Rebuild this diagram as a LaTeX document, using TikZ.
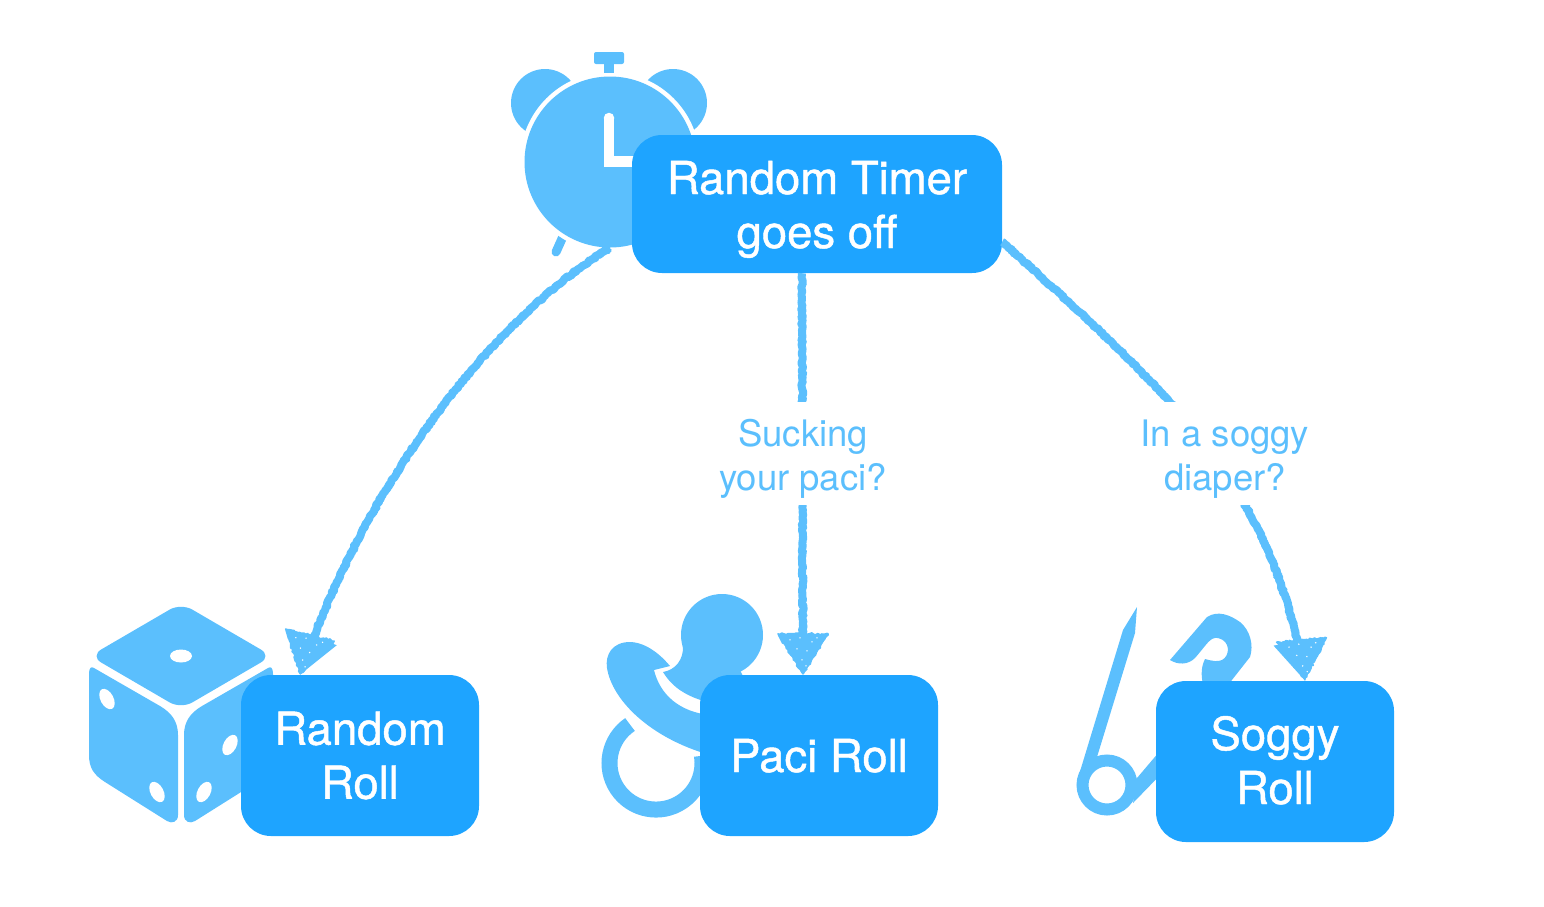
\documentclass[tikz,border=0pt]{standalone}
\usepackage{fontspec}
\setmainfont{TeX Gyre Heros}
\newfontfamily\boxfont[FakeBold=1]{TeX Gyre Heros}
\usepackage{tikz}
\usetikzlibrary{arrows.meta,decorations.pathmorphing}
\definecolor{boxblue}{HTML}{1EA4FF}
\definecolor{iconblue}{HTML}{5BBFFD}
\tikzset{
  rollbox/.style={fill=boxblue,text=white,rounded corners=30pt,minimum width=238pt,minimum height=161pt,align=center,inner sep=0pt,font=\boxfont\fontsize{45.5}{54}\selectfont},
  asklabel/.style={fill=white,text=iconblue,align=center,minimum width=176pt,minimum height=103pt,inner sep=0pt,text height=73pt,text depth=0pt,font=\fontsize{36.5}{44}\selectfont},
  chalk/.style={draw=iconblue,line width=8pt,line join=round,decorate,decoration={random steps,segment length=1.8pt,amplitude=.9pt,post=lineto,post length=8pt},-{Triangle[length=40pt,width=48pt]}},
  icon/.style={fill=iconblue,draw=none},
  chalkhead/.pic={
    \filldraw[iconblue,line width=1.5pt,line join=round,decorate,decoration={random steps,segment length=2pt,amplitude=1.2pt}] (-25,-41) -- (25,-41) -- (0,-1) -- cycle;
    \foreach \sx/\sy in {-13/-35,-3/-37,9/-33,14/-37,-6/-26,4/-24,-1/-15,3/-9}
      \fill[white] (\sx,\sy) circle (.8pt);
  },
}
\begin{document}
\begin{tikzpicture}[x=1pt,y=-1pt]
        \useasboundingbox (0,0) rectangle (1544,906);
        % alarm clock
        \fill[icon] (545,103) circle (34pt) (673,103) circle (34pt);
        \draw[iconblue,line width=9pt,line cap=round] (565,232) -- (556,252);
        \fill[white] (610,162) circle (90pt);
        \node[circle,icon,minimum size=171pt,inner sep=0pt] (clock) at (610,162) {};
        \fill[icon,rounded corners=2pt] (594,52) rectangle (624,64);
        \fill[icon] (604,60) rectangle (614,72.5);
        \draw[white,line width=10.5pt] (609,118) -- (609,161.5) -- (650,161.5);
        \fill[white] (609,118) circle (5.25pt);
        % dice
        \fill[icon,rounded corners=13pt] (181,603) -- (272,656) -- (181,709) -- (90,656) -- cycle;
        \fill[icon] (94,668) -- (160,706) .. controls (172,713) and (178,722) .. (178,735) -- (178,815) .. controls (178,822) and (172,824) .. (167,821) -- (105,782) .. controls (94,775) and (89,768) .. (89,755) -- (89,674) .. controls (89,668) and (91,666) .. (94,668) -- cycle;
        \fill[icon] (268,668) -- (202,706) .. controls (190,713) and (184,722) .. (184,735) -- (184,815) .. controls (184,822) and (190,824) .. (195,821) -- (257,782) .. controls (268,775) and (273,768) .. (273,755) -- (273,674) .. controls (273,668) and (271,666) .. (268,668) -- cycle;
        \fill[white] (181,656) ellipse [x radius=11pt,y radius=6.5pt];
        \fill[white] (107,699) ellipse [x radius=6.5pt,y radius=11pt,rotate=28];
        \fill[white] (157,792) ellipse [x radius=6.5pt,y radius=11pt,rotate=28];
        \fill[white] (230,745) ellipse [x radius=6.5pt,y radius=11pt,rotate=-28];
        \fill[white] (204,792) ellipse [x radius=6.5pt,y radius=11pt,rotate=-28];
        % pacifier
        \fill[icon] (722,635) circle (41pt);
        \fill[icon] (663,672) .. controls (675,670) and (684,660) .. (683,645) -- (722,635) -- (745,680) -- (720,705) .. controls (695,700) and (675,692) .. (663,672) -- cycle;
        \fill[icon] (670,666) .. controls (655,648) and (640,642) .. (630,642) .. controls (612,642) and (605,655) .. (607,668) .. controls (612,700) and (650,738) .. (710,755) -- (710,715) .. controls (680,712) and (660,695) .. (654,670) -- cycle;
        \draw[iconblue,line width=16pt] (630,724.5) arc [start angle=124,end angle=369,radius=46.5pt];
        % safety pin
        \draw[iconblue,line width=12pt] (1107,785) circle (24.5pt);
        \fill[icon] (1137,607) -- (1135,633) -- (1097,757) -- (1081,775) -- (1078,778) -- (1123,630) -- cycle;
        \fill[icon] (1137,778) -- (1165,745) -- (1165,770) -- (1133,803) -- cycle;
        \fill[icon] (1170,660) -- (1207,617) .. controls (1218,610) and (1230,615) .. (1240,622) .. controls (1250,630) and (1254,645) .. (1250,657) -- (1228,685) -- (1203,685) .. controls (1201,675) and (1201,667) .. (1205,659) .. controls (1212,661) and (1218,662) .. (1222,660) .. controls (1230,656) and (1231,641) .. (1218,638) .. controls (1210,637) and (1208,643) .. (1195,658) .. controls (1188,665) and (1178,665) .. (1170,660) -- cycle;
        % boxes
        \node[rollbox,minimum width=370pt,minimum height=138pt,text height=88pt,text depth=0pt] (timer) at (817,204) {Random Timer\\goes off};
        \node[rollbox] (random) at (360,755.5) {Random\\Roll};
        \node[rollbox,text height=33pt,text depth=0pt] (paci) at (819,755.5) {Paci Roll};
        \node[rollbox,text height=85pt,text depth=0pt] (soggy) at (1275,761.5) {Soggy\\Roll};
        % connectors
        \draw[chalk] (clock.south) .. controls (500,315) and (370,470) .. ([xshift=-60pt]random.north) pic[rotate=-14] {chalkhead};
        \draw[chalk] ([xshift=-15pt]timer.south) -- ([xshift=-16pt]paci.north) pic {chalkhead};
        \draw[chalk] ([yshift=-38pt]timer.east) .. controls (1090,320) and (1170,395) .. (1210,450) .. controls (1260,520) and (1290,590) .. ([xshift=30pt]soggy.north) pic[rotate=5] {chalkhead};
        \node[asklabel] (askpaci) at (803,453.5) {Sucking\\your paci?};
        \node[asklabel] (asksoggy) at (1225,453.5) {In a soggy\\diaper?};
\end{tikzpicture}
\end{document}
